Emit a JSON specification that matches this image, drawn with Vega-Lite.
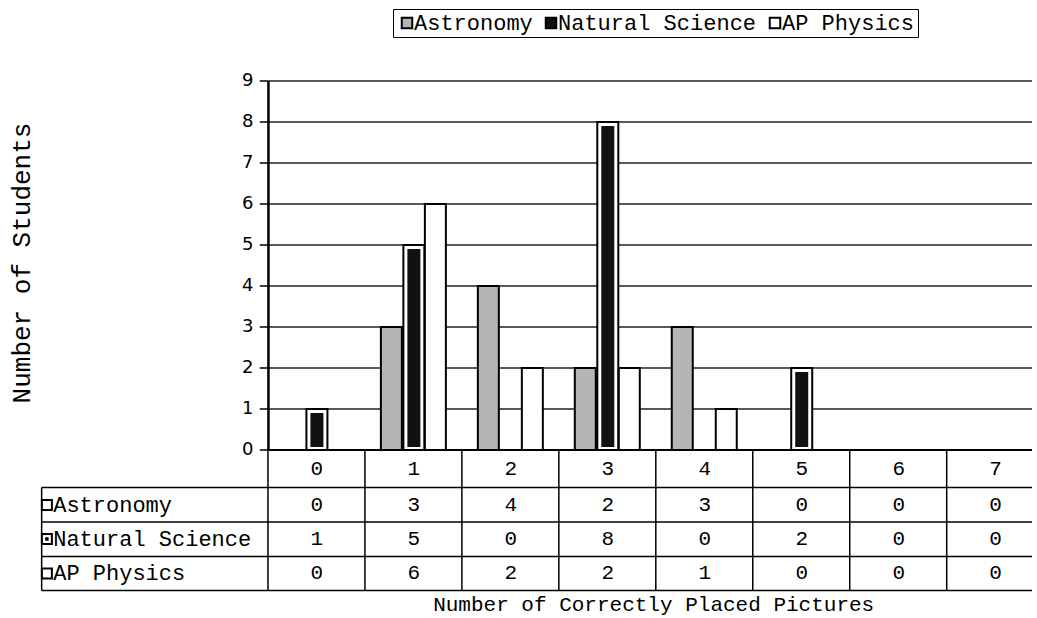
{
  "$schema": "https://vega.github.io/schema/vega-lite/v6.json",
  "width": 1037,
  "height": 618,
  "autosize": {"type": "none"},
  "padding": 0,
  "background": "white",
  "config": {
    "view": {"stroke": null},
    "legend": {
      "labelFont": "Liberation Mono",
      "labelFontSize": 22,
      "labelColor": "black",
      "labelLimit": 400,
      "labelOffset": -4,
      "symbolType": "square",
      "symbolSize": 110,
      "symbolStrokeColor": "black",
      "symbolStrokeWidth": 2,
      "strokeColor": "black",
      "padding": 3,
      "columnPadding": 7
    }
  },
  "datasets": {
    "counts": [
      {"placed": 0, "series": "Astronomy", "n": 0},
      {"placed": 1, "series": "Astronomy", "n": 3},
      {"placed": 2, "series": "Astronomy", "n": 4},
      {"placed": 3, "series": "Astronomy", "n": 2},
      {"placed": 4, "series": "Astronomy", "n": 3},
      {"placed": 5, "series": "Astronomy", "n": 0},
      {"placed": 6, "series": "Astronomy", "n": 0},
      {"placed": 7, "series": "Astronomy", "n": 0},
      {"placed": 0, "series": "Natural Science", "n": 1},
      {"placed": 1, "series": "Natural Science", "n": 5},
      {"placed": 2, "series": "Natural Science", "n": 0},
      {"placed": 3, "series": "Natural Science", "n": 8},
      {"placed": 4, "series": "Natural Science", "n": 0},
      {"placed": 5, "series": "Natural Science", "n": 2},
      {"placed": 6, "series": "Natural Science", "n": 0},
      {"placed": 7, "series": "Natural Science", "n": 0},
      {"placed": 0, "series": "AP Physics", "n": 0},
      {"placed": 1, "series": "AP Physics", "n": 6},
      {"placed": 2, "series": "AP Physics", "n": 2},
      {"placed": 3, "series": "AP Physics", "n": 2},
      {"placed": 4, "series": "AP Physics", "n": 1},
      {"placed": 5, "series": "AP Physics", "n": 0},
      {"placed": 6, "series": "AP Physics", "n": 0},
      {"placed": 7, "series": "AP Physics", "n": 0}
    ],
    "ticks": [{"v": 0}, {"v": 1}, {"v": 2}, {"v": 3}, {"v": 4}, {"v": 5}, {"v": 6}, {"v": 7}, {"v": 8}, {"v": 9}],
    "one": [{"k": 1}]
  },
  "data": {"name": "counts"},
  "encoding": {
    "x": {"type": "quantitative", "scale": {"domain": [-3.217, 7.375], "zero": false, "nice": false}, "axis": null},
    "y": {"type": "quantitative", "scale": {"domain": [-4.098, 10.976], "zero": false, "nice": false}, "axis": null}
  },
  "layer": [
    {
      "data": {"name": "ticks"},
      "transform": [{"filter": "datum.v >= 1"}],
      "mark": {"type": "rule", "color": "#222222", "strokeWidth": 1.4},
      "encoding": {"y": {"field": "v", "type": "quantitative"}, "x": {"datum": -0.5}, "x2": {"datum": 7.375}}
    },
    {
      "data": {"name": "ticks"},
      "mark": {"type": "rule", "color": "black", "strokeWidth": 1.5},
      "encoding": {"y": {"field": "v", "type": "quantitative"}, "x": {"datum": -0.59}, "x2": {"datum": -0.5}}
    },
    {
      "data": {"name": "ticks"},
      "mark": {"type": "text", "align": "right", "baseline": "middle", "dx": -15, "font": "DejaVu Sans", "fontSize": 18, "color": "black"},
      "encoding": {"y": {"field": "v", "type": "quantitative"}, "x": {"datum": -0.5}, "text": {"field": "v", "type": "quantitative"}}
    },
    {
      "transform": [{"filter": "datum.series == 'Astronomy' && datum.n > 0"}],
      "mark": {"type": "bar", "width": 21, "xOffset": -22.5, "stroke": "black", "strokeWidth": 2},
      "encoding": {
        "x": {"field": "placed", "type": "quantitative"},
        "y": {"field": "n", "type": "quantitative"},
        "y2": {"datum": 0},
        "fill": {"field": "series", "type": "nominal", "scale": {"domain": ["Astronomy", "Natural Science", "AP Physics"], "range": ["#b5b5b5", "#111111", "#ffffff"]}, "legend": {"orient": "none", "legendX": 393, "legendY": 9, "direction": "horizontal", "title": null}}
      }
    },
    {
      "transform": [{"filter": "datum.series == 'Natural Science' && datum.n > 0"}],
      "mark": {"type": "bar", "width": 21, "fill": "white", "stroke": "black", "strokeWidth": 2},
      "encoding": {
        "x": {"field": "placed", "type": "quantitative"},
        "y": {"field": "n", "type": "quantitative"},
        "y2": {"datum": 0}
      }
    },
    {
      "transform": [{"filter": "datum.series == 'Natural Science' && datum.n > 0"}],
      "mark": {"type": "bar", "width": 13, "yOffset": 4, "y2Offset": -3},
      "encoding": {
        "x": {"field": "placed", "type": "quantitative"},
        "y": {"field": "n", "type": "quantitative"},
        "y2": {"datum": 0},
        "fill": {"field": "series", "type": "nominal", "scale": {"domain": ["Astronomy", "Natural Science", "AP Physics"], "range": ["#b5b5b5", "#111111", "#ffffff"]}, "legend": {"orient": "none", "legendX": 393, "legendY": 9, "direction": "horizontal", "title": null}}
      }
    },
    {
      "transform": [{"filter": "datum.series == 'AP Physics' && datum.n > 0"}],
      "mark": {"type": "bar", "width": 21, "xOffset": 21.5, "stroke": "black", "strokeWidth": 2},
      "encoding": {
        "x": {"field": "placed", "type": "quantitative"},
        "y": {"field": "n", "type": "quantitative"},
        "y2": {"datum": 0},
        "fill": {"field": "series", "type": "nominal", "scale": {"domain": ["Astronomy", "Natural Science", "AP Physics"], "range": ["#b5b5b5", "#111111", "#ffffff"]}, "legend": {"orient": "none", "legendX": 393, "legendY": 9, "direction": "horizontal", "title": null}}
      }
    },
    {
      "data": {"name": "one"},
      "mark": {"type": "rule", "color": "black", "strokeWidth": 2.5},
      "encoding": {"x": {"datum": -0.5}, "y": {"datum": 0}, "y2": {"datum": 9}}
    },
    {
      "data": {"name": "one"},
      "mark": {"type": "rule", "color": "black", "strokeWidth": 2},
      "encoding": {"x": {"datum": -0.5}, "x2": {"datum": 7.375}, "y": {"datum": 0}}
    },
    {
      "transform": [{"filter": "datum.series == 'Astronomy'"}],
      "mark": {"type": "rule", "color": "black", "strokeWidth": 1.5, "xOffset": -48.95},
      "encoding": {"x": {"field": "placed", "type": "quantitative"}, "y": {"datum": 0}, "y2": {"datum": -3.427}}
    },
    {
      "data": {"name": "one"},
      "mark": {"type": "rule", "color": "black", "strokeWidth": 1.5},
      "encoding": {"x": {"datum": -2.839}, "x2": {"datum": 7.375}, "y": {"datum": -0.915}}
    },
    {
      "data": {"name": "one"},
      "mark": {"type": "rule", "color": "black", "strokeWidth": 1.5},
      "encoding": {"x": {"datum": -2.839}, "x2": {"datum": 7.375}, "y": {"datum": -1.756}}
    },
    {
      "data": {"name": "one"},
      "mark": {"type": "rule", "color": "black", "strokeWidth": 1.5},
      "encoding": {"x": {"datum": -2.839}, "x2": {"datum": 7.375}, "y": {"datum": -2.598}}
    },
    {
      "data": {"name": "one"},
      "mark": {"type": "rule", "color": "black", "strokeWidth": 1.5},
      "encoding": {"x": {"datum": -2.839}, "x2": {"datum": 7.375}, "y": {"datum": -3.427}}
    },
    {
      "data": {"name": "one"},
      "mark": {"type": "rule", "color": "black", "strokeWidth": 1.5},
      "encoding": {"x": {"datum": -2.839}, "y": {"datum": -0.915}, "y2": {"datum": -3.427}}
    },
    {
      "transform": [{"filter": "datum.series == 'Astronomy'"}],
      "mark": {"type": "text", "font": "Liberation Mono", "fontSize": 21, "color": "black", "baseline": "middle", "align": "center"},
      "encoding": {"x": {"field": "placed", "type": "quantitative"}, "y": {"datum": -0.463}, "text": {"field": "placed", "type": "quantitative"}}
    },
    {
      "transform": [{"filter": "datum.series == 'Astronomy'"}],
      "layer": [
        {
          "mark": {"type": "text", "font": "Liberation Mono", "fontSize": 21, "color": "black", "baseline": "middle", "align": "center"},
          "encoding": {"x": {"field": "placed", "type": "quantitative"}, "y": {"datum": -1.341}, "text": {"field": "n", "type": "quantitative"}}
        },
        {
          "data": {"name": "one"},
          "mark": {"type": "text", "font": "Liberation Mono", "fontSize": 22, "color": "black", "baseline": "middle", "align": "left", "text": "Astronomy"},
          "encoding": {"x": {"datum": -2.72}, "y": {"datum": -1.341}}
        },
        {
          "data": {"name": "one"},
          "mark": {"type": "point", "shape": "square", "size": 100, "filled": true, "fill": "#ffffff", "stroke": "black", "strokeWidth": 2, "opacity": 1},
          "encoding": {"x": {"datum": -2.785}, "y": {"datum": -1.341}}
        }
      ]
    },
    {
      "transform": [{"filter": "datum.series == 'Natural Science'"}],
      "layer": [
        {
          "mark": {"type": "text", "font": "Liberation Mono", "fontSize": 21, "color": "black", "baseline": "middle", "align": "center"},
          "encoding": {"x": {"field": "placed", "type": "quantitative"}, "y": {"datum": -2.171}, "text": {"field": "n", "type": "quantitative"}}
        },
        {
          "data": {"name": "one"},
          "mark": {"type": "text", "font": "Liberation Mono", "fontSize": 22, "color": "black", "baseline": "middle", "align": "left", "text": "Natural Science"},
          "encoding": {"x": {"datum": -2.72}, "y": {"datum": -2.171}}
        },
        {
          "data": {"name": "one"},
          "mark": {"type": "point", "shape": "square", "size": 100, "filled": true, "fill": "#ffffff", "stroke": "black", "strokeWidth": 2, "opacity": 1},
          "encoding": {"x": {"datum": -2.785}, "y": {"datum": -2.171}}
        },
        {
          "data": {"name": "one"},
          "mark": {"type": "point", "shape": "square", "size": 12, "filled": true, "fill": "#000000", "opacity": 1},
          "encoding": {"x": {"datum": -2.785}, "y": {"datum": -2.171}}
        }
      ]
    },
    {
      "transform": [{"filter": "datum.series == 'AP Physics'"}],
      "layer": [
        {
          "mark": {"type": "text", "font": "Liberation Mono", "fontSize": 21, "color": "black", "baseline": "middle", "align": "center"},
          "encoding": {"x": {"field": "placed", "type": "quantitative"}, "y": {"datum": -3.012}, "text": {"field": "n", "type": "quantitative"}}
        },
        {
          "data": {"name": "one"},
          "mark": {"type": "text", "font": "Liberation Mono", "fontSize": 22, "color": "black", "baseline": "middle", "align": "left", "text": "AP Physics"},
          "encoding": {"x": {"datum": -2.72}, "y": {"datum": -3.012}}
        },
        {
          "data": {"name": "one"},
          "mark": {"type": "point", "shape": "square", "size": 100, "filled": true, "fill": "#ffffff", "stroke": "black", "strokeWidth": 2, "opacity": 1},
          "encoding": {"x": {"datum": -2.785}, "y": {"datum": -3.012}}
        }
      ]
    },
    {
      "data": {"name": "one"},
      "mark": {"type": "text", "font": "Liberation Mono", "fontSize": 21, "color": "black", "baseline": "middle", "align": "center", "text": "Number of Correctly Placed Pictures"},
      "encoding": {"x": {"datum": 3.473}, "y": {"datum": -3.78}}
    },
    {
      "data": {"name": "one"},
      "mark": {"type": "text", "font": "Liberation Mono", "fontSize": 26, "color": "black", "baseline": "middle", "align": "center", "angle": 270, "text": "Number of Students"},
      "encoding": {"x": {"datum": -3.04}, "y": {"datum": 4.561}}
    }
  ]
}
